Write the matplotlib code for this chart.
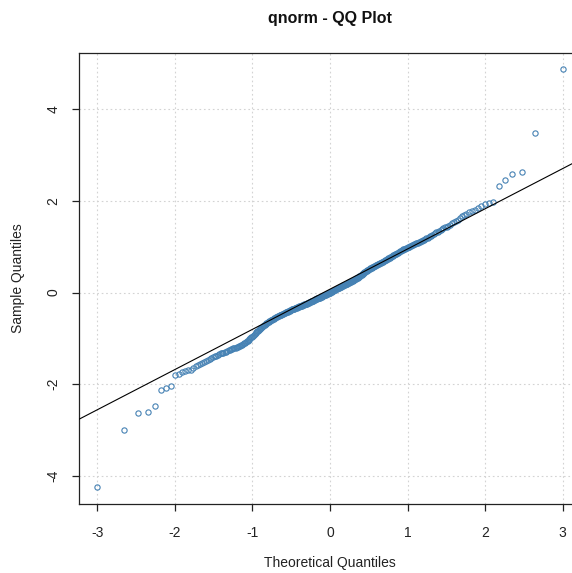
'''QQ plot of sample against normal quantiles (R base graphics look)'''

import matplotlib
matplotlib.use('Agg')
import matplotlib.pyplot as plt
import numpy as np
from statistics import NormalDist

plt.rcParams['font.family'] = ['Liberation Sans', 'DejaVu Sans']
plt.rcParams['axes.unicode_minus'] = False

# sorted sample values
sample = [
    -4.25, -2.99, -2.63, -2.61, -2.47, -2.12, -2.09, -2.05, -1.80, -1.77,
    -1.74, -1.72, -1.70, -1.68, -1.64, -1.61, -1.58, -1.56, -1.53, -1.51,
    -1.49, -1.47, -1.45, -1.43, -1.41, -1.39, -1.38, -1.36, -1.35, -1.33,
    -1.32, -1.31, -1.30, -1.29, -1.28, -1.26, -1.25, -1.24, -1.23, -1.22,
    -1.21, -1.20, -1.19, -1.18, -1.17, -1.16, -1.15, -1.14, -1.13, -1.11,
    -1.10, -1.08, -1.06, -1.05, -1.03, -1.01, -0.99, -0.98, -0.96, -0.94,
    -0.92, -0.90, -0.88, -0.86, -0.85, -0.83, -0.81, -0.79, -0.78, -0.77,
    -0.75, -0.74, -0.72, -0.71, -0.70, -0.69, -0.67, -0.66, -0.65, -0.64,
    -0.63, -0.62, -0.61, -0.60, -0.59, -0.58, -0.57, -0.56, -0.555, -0.545,
    -0.54, -0.53, -0.52, -0.52, -0.51, -0.50, -0.49, -0.49, -0.48, -0.47,
    -0.465, -0.46, -0.455, -0.45, -0.44, -0.435, -0.43, -0.42, -0.415, -0.41,
    -0.40, -0.395, -0.39, -0.38, -0.375, -0.37, -0.365, -0.36, -0.355, -0.35,
    -0.345, -0.34, -0.335, -0.33, -0.325, -0.32, -0.315, -0.31, -0.305, -0.30,
    -0.295, -0.29, -0.285, -0.28, -0.275, -0.27, -0.265, -0.26, -0.255, -0.25,
    -0.245, -0.24, -0.235, -0.23, -0.225, -0.22, -0.215, -0.21, -0.20, -0.195,
    -0.19, -0.185, -0.18, -0.175, -0.165, -0.16, -0.155, -0.15, -0.145, -0.14,
    -0.135, -0.13, -0.125, -0.12, -0.115, -0.11, -0.105, -0.10, -0.095, -0.09,
    -0.08, -0.075, -0.07, -0.065, -0.06, -0.055, -0.05, -0.045, -0.04, -0.035,
    -0.03, -0.02, -0.015, -0.01, -0.005, 0.0, 0.005, 0.01, 0.02, 0.025,
    0.03, 0.04, 0.045, 0.05, 0.06, 0.065, 0.07, 0.075, 0.08, 0.09,
    0.095, 0.10, 0.105, 0.11, 0.12, 0.125, 0.13, 0.135, 0.14, 0.15,
    0.155, 0.16, 0.165, 0.17, 0.18, 0.185, 0.19, 0.195, 0.20, 0.21,
    0.215, 0.22, 0.225, 0.235, 0.24, 0.245, 0.25, 0.26, 0.27, 0.275,
    0.28, 0.29, 0.295, 0.30, 0.31, 0.32, 0.325, 0.335, 0.34, 0.35,
    0.36, 0.37, 0.38, 0.39, 0.40, 0.41, 0.42, 0.43, 0.44, 0.45,
    0.46, 0.47, 0.48, 0.485, 0.49, 0.50, 0.51, 0.52, 0.525, 0.53,
    0.54, 0.55, 0.56, 0.565, 0.57, 0.58, 0.585, 0.59, 0.60, 0.61,
    0.615, 0.62, 0.63, 0.64, 0.645, 0.65, 0.66, 0.665, 0.67, 0.68,
    0.69, 0.70, 0.71, 0.72, 0.73, 0.74, 0.745, 0.75, 0.76, 0.77,
    0.78, 0.79, 0.80, 0.81, 0.82, 0.83, 0.84, 0.85, 0.86, 0.87,
    0.88, 0.89, 0.90, 0.91, 0.92, 0.93, 0.94, 0.95, 0.96, 0.97,
    0.98, 0.985, 0.99, 1.00, 1.01, 1.02, 1.03, 1.04, 1.05, 1.06,
    1.07, 1.08, 1.09, 1.10, 1.11, 1.12, 1.13, 1.14, 1.15, 1.17,
    1.18, 1.20, 1.21, 1.23, 1.24, 1.26, 1.28, 1.29, 1.31, 1.33,
    1.34, 1.36, 1.38, 1.40, 1.42, 1.44, 1.46, 1.48, 1.51, 1.53,
    1.56, 1.59, 1.63, 1.66, 1.69, 1.72, 1.75, 1.78, 1.81, 1.85,
    1.89, 1.93, 1.96, 1.98, 2.32, 2.46, 2.59, 2.63, 3.49, 4.87,
]
xticks = [-3, -2, -1, 0, 1, 2, 3]
yticks = [-4, -2, 0, 2, 4]

# theoretical quantiles like R's qqnorm (ppoints)
y = np.sort(np.array(sample))
n = len(y)
nd = NormalDist()
x = np.array([nd.inv_cdf((i - 0.5) / n) for i in range(1, n + 1)])

# qqline through the quartiles (quantile type 7)
q = np.quantile(y, [0.25, 0.75])
qx = np.array([nd.inv_cdf(0.25), nd.inv_cdf(0.75)])
slope = (q[1] - q[0]) / (qx[1] - qx[0])
icept = q[0] - slope * qx[0]

W, H = 572, 573
fig = plt.figure(figsize=(W / 100, H / 100), dpi=100)
# plot box, right side runs past the edge of the picture
l, r, t, b = 78.5, 581.3, 52.6, 504.0
ax = fig.add_axes([l / W, 1 - b / H, (r - l) / W, (b - t) / H])

# R style axis limits (4% padding)
xr = x.max() - x.min()
yr = y.max() - y.min()
ax.set_xlim(x.min() - 0.04 * xr, x.max() + 0.04 * xr)
ax.set_ylim(y.min() - 0.04 * yr, y.max() + 0.04 * yr)

ax.set_xticks(xticks)
ax.set_yticks(yticks)
ax.grid(True, color='#d3d3d3', linestyle=(0, (1.5, 2.5)), linewidth=0.8)
ax.set_axisbelow(True)

ax.plot(x, y, 'o', mfc='none', mec='#4682b4', ms=3.8, mew=0.8, zorder=3)
xl = np.array(ax.get_xlim())
ax.plot(xl, icept + slope * xl, color='black', lw=0.8, zorder=4)
ax.set_xlim(xl)

for s in ax.spines.values():
    s.set_linewidth(0.9)
    s.set_color('#222222')
ax.tick_params(axis='both', direction='out', length=5, width=0.9,
               labelsize=10, color='#222222', labelcolor='#222222')
ax.tick_params(axis='x', pad=11)
ax.tick_params(axis='y', pad=8)
for lab in ax.get_yticklabels():
    lab.set_rotation(90)
    lab.set_va('center')

fig.text(330 / W, 1 - 18 / H, 'qnorm - QQ Plot', ha='center', va='center',
         fontsize=11.5, fontweight='bold', color='#111111')
fig.text(330 / W, 1 - 563 / H, 'Theoretical Quantiles', ha='center',
         va='center', fontsize=10, color='#222222')
fig.text(18 / W, 1 - 278 / H, 'Sample Quantiles', ha='center', va='center',
         rotation=90, fontsize=10, color='#222222')

fig.savefig('out.png', dpi=100)
